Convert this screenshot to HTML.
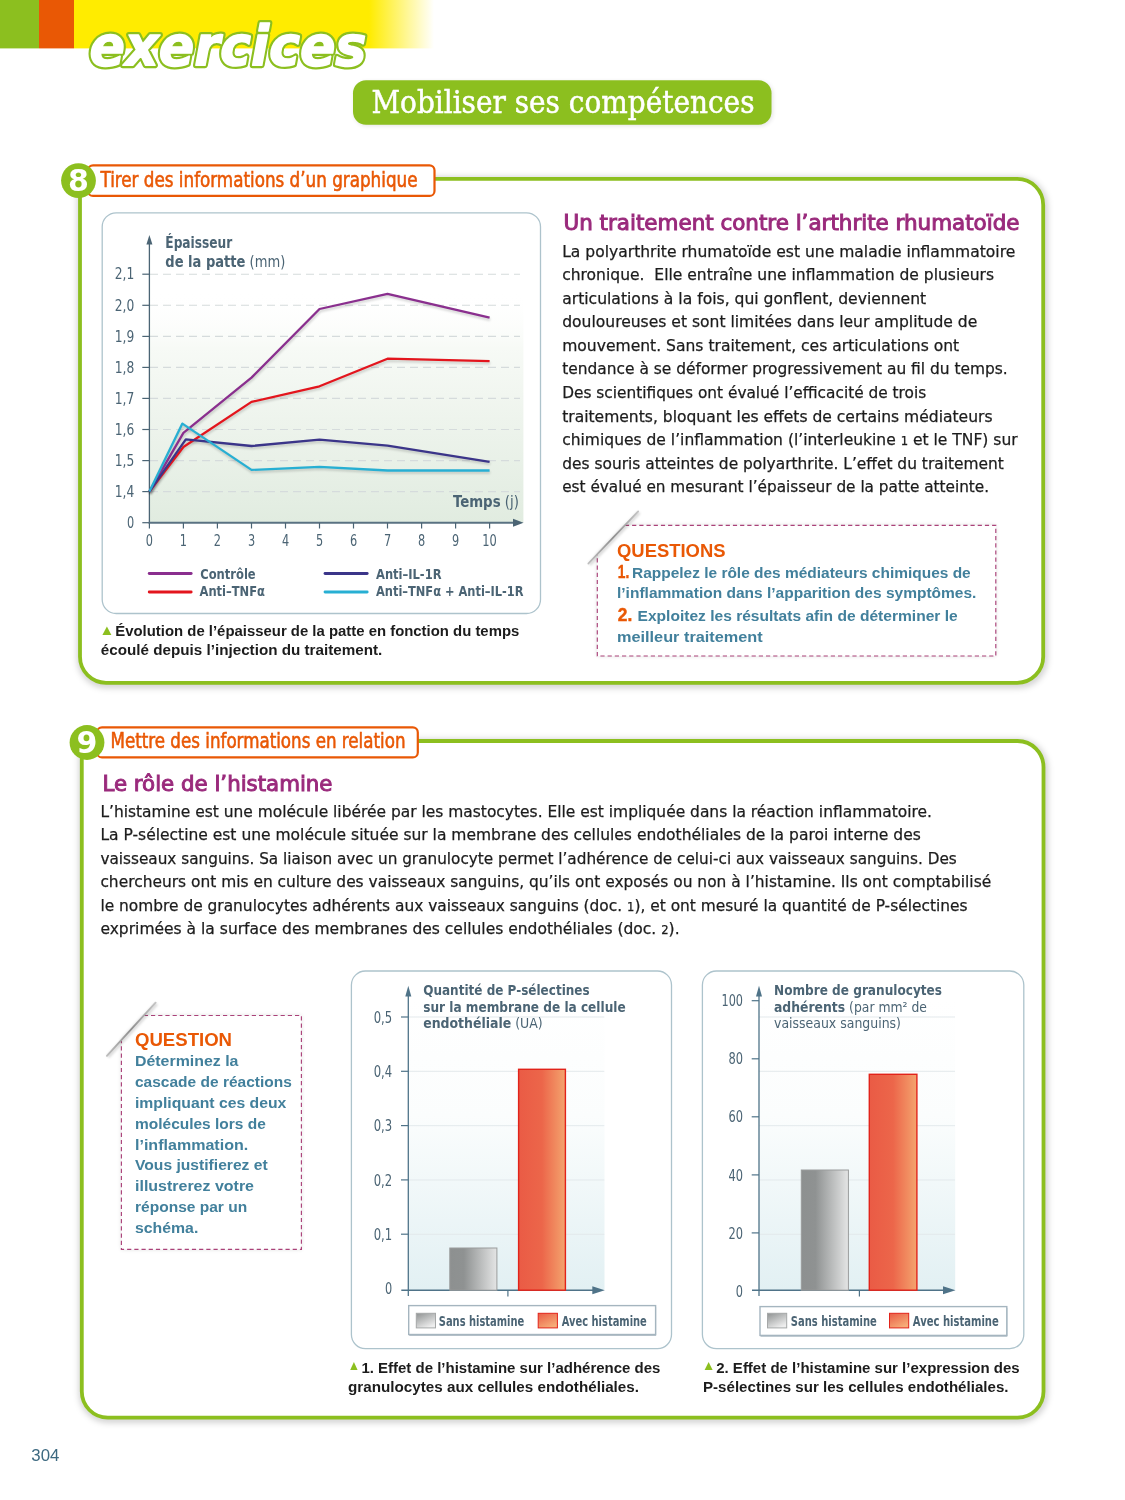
<!DOCTYPE html>
<html lang="fr"><head><meta charset="utf-8"><title>exercices</title>
<style>html,body{margin:0;padding:0;background:#fff}body{width:1125px;height:1500px;overflow:hidden}svg{display:block}</style>
</head><body>
<svg width="1125" height="1500" viewBox="0 0 1125 1500"><defs>
<linearGradient id="yel" x1="0" y1="0" x2="1" y2="0">
 <stop offset="0" stop-color="#ffec00"/><stop offset="0.82" stop-color="#ffec00"/>
 <stop offset="1" stop-color="#ffec00" stop-opacity="0"/></linearGradient>
<linearGradient id="grn" x1="0" y1="0" x2="0" y2="1">
 <stop offset="0" stop-color="#ffffff" stop-opacity="0"/><stop offset="0.25" stop-color="#f7faf6"/><stop offset="0.55" stop-color="#eef4ed"/>
 <stop offset="1" stop-color="#e1ece0"/></linearGradient>
<linearGradient id="blu" x1="0" y1="0" x2="0" y2="1">
 <stop offset="0" stop-color="#ffffff"/><stop offset="0.4" stop-color="#fbfdfd"/>
 <stop offset="1" stop-color="#e2f0f3"/></linearGradient>
<linearGradient id="gry" x1="0" y1="0" x2="1" y2="0">
 <stop offset="0" stop-color="#8d9090"/><stop offset="0.3" stop-color="#8f9292"/>
 <stop offset="1" stop-color="#e4e5e5"/></linearGradient>
<linearGradient id="red" x1="0" y1="0" x2="1" y2="0">
 <stop offset="0" stop-color="#ea5b45"/><stop offset="0.5" stop-color="#ec664a"/>
 <stop offset="1" stop-color="#f4a46e"/></linearGradient>
<linearGradient id="gry2" x1="0" y1="0" x2="0.6" y2="1">
 <stop offset="0" stop-color="#8f9292"/><stop offset="1" stop-color="#eeeeee"/></linearGradient>
<linearGradient id="red2" x1="0" y1="0" x2="0.6" y2="1">
 <stop offset="0" stop-color="#ea5b45"/><stop offset="1" stop-color="#f6ad78"/></linearGradient>
<linearGradient id="fold" x1="0" y1="1" x2="1" y2="0">
 <stop offset="0" stop-color="#bdbdbd"/><stop offset="0.5" stop-color="#8f8f8f"/><stop offset="1" stop-color="#c4c4c4"/></linearGradient>
<filter id="blur1" x="-20%" y="-20%" width="140%" height="140%"><feGaussianBlur stdDeviation="1"/></filter>
<filter id="blur2" x="-20%" y="-20%" width="140%" height="140%"><feGaussianBlur stdDeviation="2"/></filter>
<filter id="blur3" x="-10%" y="-10%" width="120%" height="120%"><feGaussianBlur stdDeviation="3"/></filter>
</defs>
<rect x="0" y="0" width="39" height="48.4" fill="#8cbf1f"/>
<rect x="39" y="0" width="35" height="48.4" fill="#e95805"/>
<rect x="74" y="0" width="360" height="48.4" fill="url(#yel)"/>
<text x="89.5" y="65" font-size="55" font-family="'DejaVu Sans', sans-serif" font-weight="bold" font-style="oblique" textLength="277" lengthAdjust="spacingAndGlyphs" fill="#8cbf1f" stroke="#8cbf1f" stroke-width="6" stroke-linejoin="round">exercices</text>
<text x="89.5" y="65" font-size="55" font-family="'DejaVu Sans', sans-serif" font-weight="bold" font-style="oblique" textLength="277" lengthAdjust="spacingAndGlyphs" fill="#ffffff" stroke="#ffffff" stroke-width="1.5" stroke-linejoin="round">exercices</text>
<rect x="354" y="81.5" width="419" height="44.5" rx="13" fill="#000" opacity="0.10" filter="url(#blur2)"/>
<rect x="353" y="80.2" width="418.5" height="44.5" rx="13" fill="#8cbf1f"/>
<text x="371.5" y="112.8" font-size="31" font-family="'DejaVu Serif', 'Liberation Serif', serif" fill="#ffffff" textLength="383" lengthAdjust="spacingAndGlyphs" stroke="#ffffff" stroke-width="0.5">Mobiliser ses compétences</text>
<path d="M80,178.9 L1017.2,178.9 A26,26 0 0 1 1043.2,204.9 L1043.2,656.8 A26,26 0 0 1 1017.2,682.8 L106,682.8 A26,26 0 0 1 80,656.8 Z" fill="none" stroke="#000" stroke-opacity="0.2" stroke-width="6.8" filter="url(#blur3)" transform="translate(0.8,1.6)"/>
<path d="M80,178.9 L1017.2,178.9 A26,26 0 0 1 1043.2,204.9 L1043.2,656.8 A26,26 0 0 1 1017.2,682.8 L106,682.8 A26,26 0 0 1 80,656.8 Z" fill="#ffffff" stroke="#8cbf1f" stroke-width="3.8"/>
<path d="M81.8,741.0 L1017.5,741.0 A26,26 0 0 1 1043.5,767.0 L1043.5,1391.6 A26,26 0 0 1 1017.5,1417.6 L107.8,1417.6 A26,26 0 0 1 81.8,1391.6 Z" fill="none" stroke="#000" stroke-opacity="0.2" stroke-width="6.8" filter="url(#blur3)" transform="translate(0.8,1.6)"/>
<path d="M81.8,741.0 L1017.5,741.0 A26,26 0 0 1 1043.5,767.0 L1043.5,1391.6 A26,26 0 0 1 1017.5,1417.6 L107.8,1417.6 A26,26 0 0 1 81.8,1391.6 Z" fill="#ffffff" stroke="#8cbf1f" stroke-width="3.8"/>
<rect x="88" y="165.3" width="346.5" height="30.599999999999994" rx="5" fill="#ffffff" stroke="#e95805" stroke-width="2.2"/>
<circle cx="78.5" cy="180.6" r="17.4" fill="#8cbf1f"/>
<text x="78.5" y="191.0" font-size="30" font-family="'DejaVu Sans', sans-serif" fill="#ffffff" font-weight="bold" text-anchor="middle">8</text>
<text x="100.5" y="187" font-size="21" font-family="'DejaVu Sans Condensed', 'DejaVu Sans', sans-serif" fill="#e95805" textLength="317" lengthAdjust="spacingAndGlyphs" stroke="#e95805" stroke-width="0.55">Tirer des informations d’un graphique</text>
<rect x="97" y="727.4" width="320.8" height="30.0" rx="5" fill="#ffffff" stroke="#e95805" stroke-width="2.2"/>
<circle cx="87" cy="742.5" r="17.4" fill="#8cbf1f"/>
<text x="87" y="752.9" font-size="30" font-family="'DejaVu Sans', sans-serif" fill="#ffffff" font-weight="bold" text-anchor="middle">9</text>
<text x="110.5" y="747.7" font-size="21" font-family="'DejaVu Sans Condensed', 'DejaVu Sans', sans-serif" fill="#e95805" textLength="295" lengthAdjust="spacingAndGlyphs" stroke="#e95805" stroke-width="0.55">Mettre des informations en relation</text>
<rect x="102.2" y="212.8" width="438.3" height="400.7" rx="14" fill="#ffffff" stroke="#adc3cc" stroke-width="1.3"/>
<rect x="149.4" y="290" width="374" height="232.7" fill="url(#grn)"/>
<line x1="150" y1="491.6" x2="520" y2="491.6" stroke="#d5dbdc" stroke-width="1.1" stroke-dasharray="8 5"/>
<line x1="142.3" y1="491.6" x2="149.4" y2="491.6" stroke="#4b6474" stroke-width="1.2"/>
<text x="134.2" y="496.8" font-size="15" font-family="'DejaVu Sans Condensed', 'DejaVu Sans', sans-serif" fill="#4b6474" textLength="19.5" lengthAdjust="spacingAndGlyphs" text-anchor="end">1,4</text>
<line x1="150" y1="460.6" x2="520" y2="460.6" stroke="#d5dbdc" stroke-width="1.1" stroke-dasharray="8 5"/>
<line x1="142.3" y1="460.6" x2="149.4" y2="460.6" stroke="#4b6474" stroke-width="1.2"/>
<text x="134.2" y="465.8" font-size="15" font-family="'DejaVu Sans Condensed', 'DejaVu Sans', sans-serif" fill="#4b6474" textLength="19.5" lengthAdjust="spacingAndGlyphs" text-anchor="end">1,5</text>
<line x1="150" y1="429.5" x2="520" y2="429.5" stroke="#d5dbdc" stroke-width="1.1" stroke-dasharray="8 5"/>
<line x1="142.3" y1="429.5" x2="149.4" y2="429.5" stroke="#4b6474" stroke-width="1.2"/>
<text x="134.2" y="434.7" font-size="15" font-family="'DejaVu Sans Condensed', 'DejaVu Sans', sans-serif" fill="#4b6474" textLength="19.5" lengthAdjust="spacingAndGlyphs" text-anchor="end">1,6</text>
<line x1="150" y1="398.4" x2="520" y2="398.4" stroke="#d5dbdc" stroke-width="1.1" stroke-dasharray="8 5"/>
<line x1="142.3" y1="398.4" x2="149.4" y2="398.4" stroke="#4b6474" stroke-width="1.2"/>
<text x="134.2" y="403.59999999999997" font-size="15" font-family="'DejaVu Sans Condensed', 'DejaVu Sans', sans-serif" fill="#4b6474" textLength="19.5" lengthAdjust="spacingAndGlyphs" text-anchor="end">1,7</text>
<line x1="150" y1="367.4" x2="520" y2="367.4" stroke="#d5dbdc" stroke-width="1.1" stroke-dasharray="8 5"/>
<line x1="142.3" y1="367.4" x2="149.4" y2="367.4" stroke="#4b6474" stroke-width="1.2"/>
<text x="134.2" y="372.59999999999997" font-size="15" font-family="'DejaVu Sans Condensed', 'DejaVu Sans', sans-serif" fill="#4b6474" textLength="19.5" lengthAdjust="spacingAndGlyphs" text-anchor="end">1,8</text>
<line x1="150" y1="336.4" x2="520" y2="336.4" stroke="#d5dbdc" stroke-width="1.1" stroke-dasharray="8 5"/>
<line x1="142.3" y1="336.4" x2="149.4" y2="336.4" stroke="#4b6474" stroke-width="1.2"/>
<text x="134.2" y="341.59999999999997" font-size="15" font-family="'DejaVu Sans Condensed', 'DejaVu Sans', sans-serif" fill="#4b6474" textLength="19.5" lengthAdjust="spacingAndGlyphs" text-anchor="end">1,9</text>
<line x1="150" y1="305.3" x2="520" y2="305.3" stroke="#d5dbdc" stroke-width="1.1" stroke-dasharray="8 5"/>
<line x1="142.3" y1="305.3" x2="149.4" y2="305.3" stroke="#4b6474" stroke-width="1.2"/>
<text x="134.2" y="310.5" font-size="15" font-family="'DejaVu Sans Condensed', 'DejaVu Sans', sans-serif" fill="#4b6474" textLength="19.5" lengthAdjust="spacingAndGlyphs" text-anchor="end">2,0</text>
<line x1="150" y1="274.2" x2="520" y2="274.2" stroke="#d5dbdc" stroke-width="1.1" stroke-dasharray="8 5"/>
<line x1="142.3" y1="274.2" x2="149.4" y2="274.2" stroke="#4b6474" stroke-width="1.2"/>
<text x="134.2" y="279.4" font-size="15" font-family="'DejaVu Sans Condensed', 'DejaVu Sans', sans-serif" fill="#4b6474" textLength="19.5" lengthAdjust="spacingAndGlyphs" text-anchor="end">2,1</text>
<text x="134.2" y="527.9" font-size="15" font-family="'DejaVu Sans Condensed', 'DejaVu Sans', sans-serif" fill="#4b6474" textLength="7.2" lengthAdjust="spacingAndGlyphs" text-anchor="end">0</text>
<line x1="142.3" y1="522.7" x2="149.4" y2="522.7" stroke="#4b6474" stroke-width="1.2"/>
<line x1="149.4" y1="243" x2="149.4" y2="523.5" stroke="#4b6474" stroke-width="1.3"/>
<path d="M149.4,235 L152.4,244.5 L146.4,244.5 Z" fill="#4b6474"/>
<line x1="148.7" y1="522.8" x2="515" y2="522.8" stroke="#5a7282" stroke-width="2"/>
<path d="M523.5,522.8 L513,518.8 L513,526.8 Z" fill="#4b6474"/>
<line x1="149.4" y1="522.8" x2="149.4" y2="528.5" stroke="#4b6474" stroke-width="1.2"/>
<text x="149.4" y="546.0" font-size="15" font-family="'DejaVu Sans Condensed', 'DejaVu Sans', sans-serif" fill="#4b6474" textLength="7.2" lengthAdjust="spacingAndGlyphs" text-anchor="middle">0</text>
<line x1="183.4" y1="522.8" x2="183.4" y2="528.5" stroke="#4b6474" stroke-width="1.2"/>
<text x="183.4" y="546.0" font-size="15" font-family="'DejaVu Sans Condensed', 'DejaVu Sans', sans-serif" fill="#4b6474" textLength="7.2" lengthAdjust="spacingAndGlyphs" text-anchor="middle">1</text>
<line x1="217.4" y1="522.8" x2="217.4" y2="528.5" stroke="#4b6474" stroke-width="1.2"/>
<text x="217.4" y="546.0" font-size="15" font-family="'DejaVu Sans Condensed', 'DejaVu Sans', sans-serif" fill="#4b6474" textLength="7.2" lengthAdjust="spacingAndGlyphs" text-anchor="middle">2</text>
<line x1="251.5" y1="522.8" x2="251.5" y2="528.5" stroke="#4b6474" stroke-width="1.2"/>
<text x="251.5" y="546.0" font-size="15" font-family="'DejaVu Sans Condensed', 'DejaVu Sans', sans-serif" fill="#4b6474" textLength="7.2" lengthAdjust="spacingAndGlyphs" text-anchor="middle">3</text>
<line x1="285.5" y1="522.8" x2="285.5" y2="528.5" stroke="#4b6474" stroke-width="1.2"/>
<text x="285.5" y="546.0" font-size="15" font-family="'DejaVu Sans Condensed', 'DejaVu Sans', sans-serif" fill="#4b6474" textLength="7.2" lengthAdjust="spacingAndGlyphs" text-anchor="middle">4</text>
<line x1="319.5" y1="522.8" x2="319.5" y2="528.5" stroke="#4b6474" stroke-width="1.2"/>
<text x="319.5" y="546.0" font-size="15" font-family="'DejaVu Sans Condensed', 'DejaVu Sans', sans-serif" fill="#4b6474" textLength="7.2" lengthAdjust="spacingAndGlyphs" text-anchor="middle">5</text>
<line x1="353.5" y1="522.8" x2="353.5" y2="528.5" stroke="#4b6474" stroke-width="1.2"/>
<text x="353.5" y="546.0" font-size="15" font-family="'DejaVu Sans Condensed', 'DejaVu Sans', sans-serif" fill="#4b6474" textLength="7.2" lengthAdjust="spacingAndGlyphs" text-anchor="middle">6</text>
<line x1="387.5" y1="522.8" x2="387.5" y2="528.5" stroke="#4b6474" stroke-width="1.2"/>
<text x="387.5" y="546.0" font-size="15" font-family="'DejaVu Sans Condensed', 'DejaVu Sans', sans-serif" fill="#4b6474" textLength="7.2" lengthAdjust="spacingAndGlyphs" text-anchor="middle">7</text>
<line x1="421.6" y1="522.8" x2="421.6" y2="528.5" stroke="#4b6474" stroke-width="1.2"/>
<text x="421.6" y="546.0" font-size="15" font-family="'DejaVu Sans Condensed', 'DejaVu Sans', sans-serif" fill="#4b6474" textLength="7.2" lengthAdjust="spacingAndGlyphs" text-anchor="middle">8</text>
<line x1="455.6" y1="522.8" x2="455.6" y2="528.5" stroke="#4b6474" stroke-width="1.2"/>
<text x="455.6" y="546.0" font-size="15" font-family="'DejaVu Sans Condensed', 'DejaVu Sans', sans-serif" fill="#4b6474" textLength="7.2" lengthAdjust="spacingAndGlyphs" text-anchor="middle">9</text>
<line x1="489.6" y1="522.8" x2="489.6" y2="528.5" stroke="#4b6474" stroke-width="1.2"/>
<text x="489.6" y="546.0" font-size="15" font-family="'DejaVu Sans Condensed', 'DejaVu Sans', sans-serif" fill="#4b6474" textLength="14.5" lengthAdjust="spacingAndGlyphs" text-anchor="middle">10</text>
<text x="165.3" y="247.8" font-size="15" font-family="'DejaVu Sans Condensed', 'DejaVu Sans', sans-serif" fill="#4b6474" font-weight="bold" textLength="67" lengthAdjust="spacingAndGlyphs">Épaisseur</text>
<text x="165.3" y="267" font-size="15" font-family="'DejaVu Sans Condensed', 'DejaVu Sans', sans-serif" fill="#4b6474" textLength="120" lengthAdjust="spacingAndGlyphs"><tspan font-weight="bold">de la patte</tspan> (mm)</text>
<text x="453" y="507.2" font-size="15" font-family="'DejaVu Sans Condensed', 'DejaVu Sans', sans-serif" fill="#4b6474" textLength="66" lengthAdjust="spacingAndGlyphs"><tspan font-weight="bold">Temps</tspan> (j)</text>
<polyline points="149.4,491.6 183.4,432.9 251.5,377.6 319.5,309.0 387.5,293.8 489.6,317.7" fill="none" stroke="#000" stroke-opacity="0.16" stroke-width="2.6" stroke-linejoin="round" transform="translate(0.6,2)" filter="url(#blur1)"/>
<polyline points="149.4,491.6 183.4,447.0 251.5,401.9 319.5,386.3 387.5,358.7 489.6,361.2" fill="none" stroke="#000" stroke-opacity="0.16" stroke-width="2.6" stroke-linejoin="round" transform="translate(0.6,2)" filter="url(#blur1)"/>
<polyline points="149.4,491.6 185.8,439.4 251.5,446.0 319.5,439.7 387.5,445.6 489.6,461.8" fill="none" stroke="#000" stroke-opacity="0.16" stroke-width="2.6" stroke-linejoin="round" transform="translate(0.6,2)" filter="url(#blur1)"/>
<polyline points="149.4,491.6 182.4,423.6 251.5,469.9 319.5,466.8 387.5,470.5 489.6,470.5" fill="none" stroke="#000" stroke-opacity="0.16" stroke-width="2.6" stroke-linejoin="round" transform="translate(0.6,2)" filter="url(#blur1)"/>
<polyline points="149.4,491.6 183.4,432.9 251.5,377.6 319.5,309.0 387.5,293.8 489.6,317.7" fill="none" stroke="#8a2f8e" stroke-width="2.3" stroke-linejoin="round"/>
<polyline points="149.4,491.6 183.4,447.0 251.5,401.9 319.5,386.3 387.5,358.7 489.6,361.2" fill="none" stroke="#e3151d" stroke-width="2.3" stroke-linejoin="round"/>
<polyline points="149.4,491.6 185.8,439.4 251.5,446.0 319.5,439.7 387.5,445.6 489.6,461.8" fill="none" stroke="#3b3589" stroke-width="2.3" stroke-linejoin="round"/>
<polyline points="149.4,491.6 182.4,423.6 251.5,469.9 319.5,466.8 387.5,470.5 489.6,470.5" fill="none" stroke="#27afd3" stroke-width="2.3" stroke-linejoin="round"/>
<line x1="149.2" y1="573.5" x2="191.2" y2="573.5" stroke="#8a2f8e" stroke-width="2.8" stroke-linecap="round"/>
<text x="200.2" y="578.5" font-size="14" font-family="'DejaVu Sans Condensed', 'DejaVu Sans', sans-serif" fill="#4b6474" font-weight="bold" textLength="55.5" lengthAdjust="spacingAndGlyphs">Contrôle</text>
<line x1="149.2" y1="592.0" x2="191.2" y2="592.0" stroke="#e3151d" stroke-width="2.8" stroke-linecap="round"/>
<text x="199.5" y="595.7" font-size="14" font-family="'DejaVu Sans Condensed', 'DejaVu Sans', sans-serif" fill="#4b6474" font-weight="bold" textLength="65.5" lengthAdjust="spacingAndGlyphs">Anti–TNFα</text>
<line x1="325.0" y1="573.5" x2="367.2" y2="573.5" stroke="#3b3589" stroke-width="2.8" stroke-linecap="round"/>
<text x="376.0" y="578.5" font-size="14" font-family="'DejaVu Sans Condensed', 'DejaVu Sans', sans-serif" fill="#4b6474" font-weight="bold" textLength="65.5" lengthAdjust="spacingAndGlyphs">Anti–IL-1R</text>
<line x1="325.0" y1="592.0" x2="367.2" y2="592.0" stroke="#27afd3" stroke-width="2.8" stroke-linecap="round"/>
<text x="376.0" y="595.7" font-size="14" font-family="'DejaVu Sans Condensed', 'DejaVu Sans', sans-serif" fill="#4b6474" font-weight="bold" textLength="147.5" lengthAdjust="spacingAndGlyphs">Anti–TNFα + Anti–IL-1R</text>
<path d="M102.4,635 L106.9,626.5 L111.4,635 Z" fill="#8cbf1f"/>
<text x="115.3" y="636.3" font-size="14.8" font-family="'Liberation Sans', Arial, sans-serif" fill="#1c1c1c" font-weight="bold" textLength="404" lengthAdjust="spacingAndGlyphs">Évolution de l’épaisseur de la patte en fonction du temps</text>
<text x="100.8" y="655.3" font-size="14.8" font-family="'Liberation Sans', Arial, sans-serif" fill="#1c1c1c" font-weight="bold" textLength="281.5" lengthAdjust="spacingAndGlyphs">écoulé depuis l’injection du traitement.</text>
<text x="563.5" y="230.2" font-size="21.5" font-family="'DejaVu Sans Condensed', 'DejaVu Sans', sans-serif" fill="#9a2a7c" textLength="456" lengthAdjust="spacingAndGlyphs" stroke="#9a2a7c" stroke-width="0.9">Un traitement contre l’arthrite rhumatoïde</text>
<text x="562.2" y="256.5" font-size="15.5" font-family="'DejaVu Sans', sans-serif" fill="#1c1c1c" stroke="#1c1c1c" stroke-width="0.25" textLength="453.1" lengthAdjust="spacingAndGlyphs" xml:space="preserve">La polyarthrite rhumatoïde est une maladie inflammatoire</text>
<text x="562.2" y="280.1" font-size="15.5" font-family="'DejaVu Sans', sans-serif" fill="#1c1c1c" stroke="#1c1c1c" stroke-width="0.25" textLength="431.9" lengthAdjust="spacingAndGlyphs" xml:space="preserve">chronique.  Elle entraîne une inflammation de plusieurs</text>
<text x="562.2" y="303.6" font-size="15.5" font-family="'DejaVu Sans', sans-serif" fill="#1c1c1c" stroke="#1c1c1c" stroke-width="0.25" textLength="364.0" lengthAdjust="spacingAndGlyphs" xml:space="preserve">articulations à la fois, qui gonflent, deviennent</text>
<text x="562.2" y="327.2" font-size="15.5" font-family="'DejaVu Sans', sans-serif" fill="#1c1c1c" stroke="#1c1c1c" stroke-width="0.25" textLength="415.1" lengthAdjust="spacingAndGlyphs" xml:space="preserve">douloureuses et sont limitées dans leur amplitude de</text>
<text x="562.2" y="350.8" font-size="15.5" font-family="'DejaVu Sans', sans-serif" fill="#1c1c1c" stroke="#1c1c1c" stroke-width="0.25" textLength="397.0" lengthAdjust="spacingAndGlyphs" xml:space="preserve">mouvement. Sans traitement, ces articulations ont</text>
<text x="562.2" y="374.4" font-size="15.5" font-family="'DejaVu Sans', sans-serif" fill="#1c1c1c" stroke="#1c1c1c" stroke-width="0.25" textLength="445.6" lengthAdjust="spacingAndGlyphs" xml:space="preserve">tendance à se déformer progressivement au fil du temps.</text>
<text x="562.2" y="397.9" font-size="15.5" font-family="'DejaVu Sans', sans-serif" fill="#1c1c1c" stroke="#1c1c1c" stroke-width="0.25" textLength="364.0" lengthAdjust="spacingAndGlyphs" xml:space="preserve">Des scientifiques ont évalué l’efficacité de trois</text>
<text x="562.2" y="421.5" font-size="15.5" font-family="'DejaVu Sans', sans-serif" fill="#1c1c1c" stroke="#1c1c1c" stroke-width="0.25" textLength="430.3" lengthAdjust="spacingAndGlyphs" xml:space="preserve">traitements, bloquant les effets de certains médiateurs</text>
<text x="562.2" y="445.1" font-size="15.5" font-family="'DejaVu Sans', sans-serif" fill="#1c1c1c" stroke="#1c1c1c" stroke-width="0.25" textLength="455.4" lengthAdjust="spacingAndGlyphs" xml:space="preserve">chimiques de l’inflammation (l’interleukine <tspan font-size="11.6">1</tspan> et le TNF) sur</text>
<text x="562.2" y="468.6" font-size="15.5" font-family="'DejaVu Sans', sans-serif" fill="#1c1c1c" stroke="#1c1c1c" stroke-width="0.25" textLength="441.7" lengthAdjust="spacingAndGlyphs" xml:space="preserve">des souris atteintes de polyarthrite. L’effet du traitement</text>
<text x="562.2" y="492.2" font-size="15.5" font-family="'DejaVu Sans', sans-serif" fill="#1c1c1c" stroke="#1c1c1c" stroke-width="0.25" textLength="426.9" lengthAdjust="spacingAndGlyphs" xml:space="preserve">est évalué en mesurant l’épaisseur de la patte atteinte.</text>
<path d="M624.9,525.3 L995.8,525.3 L995.8,656.0 L597.3,656.0 L597.3,554.1999999999999 Z" fill="#000" opacity="0.13" filter="url(#blur2)"/>
<path d="M624.9,525.3 L995.8,525.3 L995.8,656.0 L597.3,656.0 L597.3,554.1999999999999 Z" fill="#ffffff"/>
<path d="M624.9,525.3 L995.8,525.3 L995.8,656.0 L597.3,656.0 L597.3,554.1999999999999" fill="none" stroke="#aa4279" stroke-width="1.15" stroke-dasharray="4.2 3"/>
<line x1="588.4" y1="563.5" x2="638.2" y2="511.4" stroke="#000" stroke-opacity="0.13" stroke-width="4" filter="url(#blur1)" transform="translate(1,1)"/>
<line x1="588.4" y1="563.5" x2="638.2" y2="511.4" stroke="url(#fold)" stroke-width="1.8" stroke-linecap="round"/>
<text x="617" y="556.5" font-size="17.6" font-family="'Liberation Sans', Arial, sans-serif" fill="#e95805" font-weight="bold" textLength="108.5" lengthAdjust="spacingAndGlyphs">QUESTIONS</text>
<text x="617.8" y="577.8" font-size="17.5" font-family="'Liberation Sans', Arial, sans-serif" fill="#e95805" font-weight="bold" textLength="11.5" lengthAdjust="spacingAndGlyphs" stroke="#e95805" stroke-width="0.4">1.</text>
<text x="632.0" y="577.8" font-size="15.3" font-family="'Liberation Sans', Arial, sans-serif" fill="#42809c" font-weight="bold" textLength="338.7" lengthAdjust="spacingAndGlyphs">Rappelez le rôle des médiateurs chimiques de</text>
<text x="617.0" y="598.2" font-size="15.3" font-family="'Liberation Sans', Arial, sans-serif" fill="#42809c" font-weight="bold" textLength="359.40000000000003" lengthAdjust="spacingAndGlyphs">l’inflammation dans l’apparition des symptômes.</text>
<text x="617.8" y="621.2" font-size="17.5" font-family="'Liberation Sans', Arial, sans-serif" fill="#e95805" font-weight="bold" textLength="14.5" lengthAdjust="spacingAndGlyphs" stroke="#e95805" stroke-width="0.4">2.</text>
<text x="637.5" y="621.2" font-size="15.3" font-family="'Liberation Sans', Arial, sans-serif" fill="#42809c" font-weight="bold" textLength="320.2" lengthAdjust="spacingAndGlyphs">Exploitez les résultats afin de déterminer le</text>
<text x="617.0" y="641.8" font-size="15.3" font-family="'Liberation Sans', Arial, sans-serif" fill="#42809c" font-weight="bold" textLength="145.7" lengthAdjust="spacingAndGlyphs">meilleur traitement</text>
<text x="102.5" y="790.7" font-size="22" font-family="'DejaVu Sans Condensed', 'DejaVu Sans', sans-serif" fill="#9a2a7c" textLength="230" lengthAdjust="spacingAndGlyphs" stroke="#9a2a7c" stroke-width="0.9">Le rôle de l’histamine</text>
<text x="100.4" y="816.6" font-size="15.5" font-family="'DejaVu Sans', sans-serif" fill="#1c1c1c" stroke="#1c1c1c" stroke-width="0.25" textLength="831.6" lengthAdjust="spacingAndGlyphs" xml:space="preserve">L’histamine est une molécule libérée par les mastocytes. Elle est impliquée dans la réaction inflammatoire.</text>
<text x="100.4" y="840.1" font-size="15.5" font-family="'DejaVu Sans', sans-serif" fill="#1c1c1c" stroke="#1c1c1c" stroke-width="0.25" textLength="820.4" lengthAdjust="spacingAndGlyphs" xml:space="preserve">La P-sélectine est une molécule située sur la membrane des cellules endothéliales de la paroi interne des</text>
<text x="100.4" y="863.6" font-size="15.5" font-family="'DejaVu Sans', sans-serif" fill="#1c1c1c" stroke="#1c1c1c" stroke-width="0.25" textLength="856.4" lengthAdjust="spacingAndGlyphs" xml:space="preserve">vaisseaux sanguins. Sa liaison avec un granulocyte permet l’adhérence de celui-ci aux vaisseaux sanguins. Des</text>
<text x="100.4" y="887.2" font-size="15.5" font-family="'DejaVu Sans', sans-serif" fill="#1c1c1c" stroke="#1c1c1c" stroke-width="0.25" textLength="890.8" lengthAdjust="spacingAndGlyphs" xml:space="preserve">chercheurs ont mis en culture des vaisseaux sanguins, qu’ils ont exposés ou non à l’histamine. Ils ont comptabilisé</text>
<text x="100.4" y="910.7" font-size="15.5" font-family="'DejaVu Sans', sans-serif" fill="#1c1c1c" stroke="#1c1c1c" stroke-width="0.25" textLength="867.1" lengthAdjust="spacingAndGlyphs" xml:space="preserve">le nombre de granulocytes adhérents aux vaisseaux sanguins (doc. <tspan font-size="11.6">1</tspan>), et ont mesuré la quantité de P-sélectines</text>
<text x="100.4" y="934.2" font-size="15.5" font-family="'DejaVu Sans', sans-serif" fill="#1c1c1c" stroke="#1c1c1c" stroke-width="0.25" textLength="579.2" lengthAdjust="spacingAndGlyphs" xml:space="preserve">exprimées à la surface des membranes des cellules endothéliales (doc. <tspan font-size="11.6">2</tspan>).</text>
<path d="M143.8,1015.5 L301.4,1015.5 L301.4,1249.4 L121.4,1249.4 L121.4,1040.0 Z" fill="#000" opacity="0.13" filter="url(#blur2)"/>
<path d="M143.8,1015.5 L301.4,1015.5 L301.4,1249.4 L121.4,1249.4 L121.4,1040.0 Z" fill="#ffffff"/>
<path d="M143.8,1015.5 L301.4,1015.5 L301.4,1249.4 L121.4,1249.4 L121.4,1040.0" fill="none" stroke="#aa4279" stroke-width="1.15" stroke-dasharray="4.2 3"/>
<line x1="106.9" y1="1055.9" x2="155.6" y2="1002.6" stroke="#000" stroke-opacity="0.13" stroke-width="4" filter="url(#blur1)" transform="translate(1,1)"/>
<line x1="106.9" y1="1055.9" x2="155.6" y2="1002.6" stroke="url(#fold)" stroke-width="1.8" stroke-linecap="round"/>
<text x="135" y="1046.2" font-size="18" font-family="'Liberation Sans', Arial, sans-serif" fill="#e95805" font-weight="bold" textLength="97" lengthAdjust="spacingAndGlyphs">QUESTION</text>
<text x="135" y="1066.4" font-size="15.3" font-family="'Liberation Sans', Arial, sans-serif" fill="#42809c" font-weight="bold" textLength="103.4" lengthAdjust="spacingAndGlyphs">Déterminez la</text>
<text x="135" y="1087.2" font-size="15.3" font-family="'Liberation Sans', Arial, sans-serif" fill="#42809c" font-weight="bold" textLength="156.8" lengthAdjust="spacingAndGlyphs">cascade de réactions</text>
<text x="135" y="1108.0" font-size="15.3" font-family="'Liberation Sans', Arial, sans-serif" fill="#42809c" font-weight="bold" textLength="151.3" lengthAdjust="spacingAndGlyphs">impliquant ces deux</text>
<text x="135" y="1128.8" font-size="15.3" font-family="'Liberation Sans', Arial, sans-serif" fill="#42809c" font-weight="bold" textLength="130.8" lengthAdjust="spacingAndGlyphs">molécules lors de</text>
<text x="135" y="1149.6" font-size="15.3" font-family="'Liberation Sans', Arial, sans-serif" fill="#42809c" font-weight="bold" textLength="113.19999999999999" lengthAdjust="spacingAndGlyphs">l’inflammation.</text>
<text x="135" y="1170.4" font-size="15.3" font-family="'Liberation Sans', Arial, sans-serif" fill="#42809c" font-weight="bold" textLength="132.7" lengthAdjust="spacingAndGlyphs">Vous justifierez et</text>
<text x="135" y="1191.2" font-size="15.3" font-family="'Liberation Sans', Arial, sans-serif" fill="#42809c" font-weight="bold" textLength="119.0" lengthAdjust="spacingAndGlyphs">illustrerez votre</text>
<text x="135" y="1212.0" font-size="15.3" font-family="'Liberation Sans', Arial, sans-serif" fill="#42809c" font-weight="bold" textLength="112.19999999999999" lengthAdjust="spacingAndGlyphs">réponse par un</text>
<text x="135" y="1232.8" font-size="15.3" font-family="'Liberation Sans', Arial, sans-serif" fill="#42809c" font-weight="bold" textLength="63.30000000000001" lengthAdjust="spacingAndGlyphs">schéma.</text>
<rect x="351.4" y="971" width="320.1" height="377.6" rx="14" fill="#ffffff" stroke="#adc3cc" stroke-width="1.3"/>
<rect x="408.3" y="1000" width="196.2" height="290" fill="url(#blu)"/>
<line x1="408.3" y1="1017.0" x2="604.3" y2="1017.0" stroke="#e3e9ec" stroke-width="1"/>
<line x1="408.3" y1="1071.3" x2="604.3" y2="1071.3" stroke="#e3e9ec" stroke-width="1"/>
<line x1="408.3" y1="1125.7" x2="604.3" y2="1125.7" stroke="#e3e9ec" stroke-width="1"/>
<line x1="408.3" y1="1180.0" x2="604.3" y2="1180.0" stroke="#e3e9ec" stroke-width="1"/>
<line x1="408.3" y1="1234.3" x2="604.3" y2="1234.3" stroke="#e3e9ec" stroke-width="1"/>
<line x1="408.3" y1="994" x2="408.3" y2="1296" stroke="#4f7388" stroke-width="1.3"/>
<path d="M408.3,985.8 L411.3,996.4 L405.3,996.4 Z" fill="#4f7388"/>
<line x1="401.3" y1="1290.2" x2="596.3" y2="1290.2" stroke="#4f7388" stroke-width="1.6"/>
<path d="M604.8,1290.2 L592.3,1286.2 L592.3,1294.2 Z" fill="#4f7388"/>
<line x1="507.9" y1="1290.2" x2="507.9" y2="1296.5" stroke="#4f7388" stroke-width="1.2"/>
<line x1="401.0" y1="1017.0" x2="408.3" y2="1017.0" stroke="#4f7388" stroke-width="1.2"/>
<text x="392.2" y="1022.6" font-size="15" font-family="'DejaVu Sans Condensed', 'DejaVu Sans', sans-serif" fill="#4b6474" textLength="18.5" lengthAdjust="spacingAndGlyphs" text-anchor="end">0,5</text>
<line x1="401.0" y1="1071.3" x2="408.3" y2="1071.3" stroke="#4f7388" stroke-width="1.2"/>
<text x="392.2" y="1076.8999999999999" font-size="15" font-family="'DejaVu Sans Condensed', 'DejaVu Sans', sans-serif" fill="#4b6474" textLength="18.5" lengthAdjust="spacingAndGlyphs" text-anchor="end">0,4</text>
<line x1="401.0" y1="1125.6" x2="408.3" y2="1125.6" stroke="#4f7388" stroke-width="1.2"/>
<text x="392.2" y="1131.1999999999998" font-size="15" font-family="'DejaVu Sans Condensed', 'DejaVu Sans', sans-serif" fill="#4b6474" textLength="18.5" lengthAdjust="spacingAndGlyphs" text-anchor="end">0,3</text>
<line x1="401.0" y1="1179.9" x2="408.3" y2="1179.9" stroke="#4f7388" stroke-width="1.2"/>
<text x="392.2" y="1185.5" font-size="15" font-family="'DejaVu Sans Condensed', 'DejaVu Sans', sans-serif" fill="#4b6474" textLength="18.5" lengthAdjust="spacingAndGlyphs" text-anchor="end">0,2</text>
<line x1="401.0" y1="1234.2" x2="408.3" y2="1234.2" stroke="#4f7388" stroke-width="1.2"/>
<text x="392.2" y="1239.8" font-size="15" font-family="'DejaVu Sans Condensed', 'DejaVu Sans', sans-serif" fill="#4b6474" textLength="18.5" lengthAdjust="spacingAndGlyphs" text-anchor="end">0,1</text>
<text x="392.2" y="1294.1" font-size="15" font-family="'DejaVu Sans Condensed', 'DejaVu Sans', sans-serif" fill="#4b6474" textLength="7.2" lengthAdjust="spacingAndGlyphs" text-anchor="end">0</text>
<text x="423.2" y="995.2" font-size="14.5" font-family="'DejaVu Sans Condensed', 'DejaVu Sans', sans-serif" fill="#4b6474" textLength="166.5" lengthAdjust="spacingAndGlyphs"><tspan font-weight="bold">Quantité de P-sélectines</tspan></text>
<text x="423.2" y="1011.7" font-size="14.5" font-family="'DejaVu Sans Condensed', 'DejaVu Sans', sans-serif" fill="#4b6474" textLength="202.5" lengthAdjust="spacingAndGlyphs"><tspan font-weight="bold">sur la membrane de la cellule</tspan></text>
<text x="423.2" y="1028.2" font-size="14.5" font-family="'DejaVu Sans Condensed', 'DejaVu Sans', sans-serif" fill="#4b6474" textLength="119.5" lengthAdjust="spacingAndGlyphs"><tspan font-weight="bold">endothéliale</tspan><tspan font-weight="normal"> (UA)</tspan></text>
<rect x="449.8" y="1248.0" width="47.099999999999966" height="42.200000000000045" fill="url(#gry)" stroke="#9a9c9c" stroke-width="1"/>
<rect x="518.6" y="1069.3" width="46.799999999999955" height="220.9000000000001" fill="url(#red)" stroke="#e2231a" stroke-width="1.4"/>
<rect x="409.2" y="1306.8" width="246.90000000000003" height="28.90000000000009" fill="#9aabb6"/>
<rect x="408.7" y="1305.6" width="246.90000000000003" height="28.90000000000009" fill="#ffffff" stroke="#a5b5bf" stroke-width="1.4"/>
<rect x="416.3" y="1313.3" width="19.2" height="14.6" fill="url(#gry2)" stroke="#a6a8a8" stroke-width="1"/>
<text x="438.8" y="1326" font-size="13.5" font-family="'DejaVu Sans Condensed', 'DejaVu Sans', sans-serif" fill="#4b6474" font-weight="bold" textLength="85.5" lengthAdjust="spacingAndGlyphs">Sans histamine</text>
<rect x="538.2" y="1313.3" width="19.2" height="14.6" fill="url(#red2)" stroke="#e2231a" stroke-width="1"/>
<text x="561.8" y="1326" font-size="13.5" font-family="'DejaVu Sans Condensed', 'DejaVu Sans', sans-serif" fill="#4b6474" font-weight="bold" textLength="85" lengthAdjust="spacingAndGlyphs">Avec histamine</text>
<rect x="702.4" y="971" width="321.4" height="377.6" rx="14" fill="#ffffff" stroke="#adc3cc" stroke-width="1.3"/>
<rect x="759.0" y="1000" width="196.2" height="290" fill="url(#blu)"/>
<line x1="759.0" y1="1017.0" x2="955.0" y2="1017.0" stroke="#e3e9ec" stroke-width="1"/>
<line x1="759.0" y1="1071.3" x2="955.0" y2="1071.3" stroke="#e3e9ec" stroke-width="1"/>
<line x1="759.0" y1="1125.7" x2="955.0" y2="1125.7" stroke="#e3e9ec" stroke-width="1"/>
<line x1="759.0" y1="1180.0" x2="955.0" y2="1180.0" stroke="#e3e9ec" stroke-width="1"/>
<line x1="759.0" y1="1234.3" x2="955.0" y2="1234.3" stroke="#e3e9ec" stroke-width="1"/>
<line x1="759.0" y1="994" x2="759.0" y2="1296" stroke="#4f7388" stroke-width="1.3"/>
<path d="M759.0,985.8 L762.0,996.4 L756.0,996.4 Z" fill="#4f7388"/>
<line x1="752.0" y1="1290.2" x2="947.0" y2="1290.2" stroke="#4f7388" stroke-width="1.6"/>
<path d="M955.5,1290.2 L943.0,1286.2 L943.0,1294.2 Z" fill="#4f7388"/>
<line x1="859.4" y1="1290.2" x2="859.4" y2="1296.5" stroke="#4f7388" stroke-width="1.2"/>
<line x1="751.7" y1="1000.7" x2="759.0" y2="1000.7" stroke="#4f7388" stroke-width="1.2"/>
<text x="743.0" y="1006.3000000000001" font-size="15" font-family="'DejaVu Sans Condensed', 'DejaVu Sans', sans-serif" fill="#4b6474" textLength="21.5" lengthAdjust="spacingAndGlyphs" text-anchor="end">100</text>
<line x1="751.7" y1="1058.8" x2="759.0" y2="1058.8" stroke="#4f7388" stroke-width="1.2"/>
<text x="743.0" y="1064.3999999999999" font-size="15" font-family="'DejaVu Sans Condensed', 'DejaVu Sans', sans-serif" fill="#4b6474" textLength="14.5" lengthAdjust="spacingAndGlyphs" text-anchor="end">80</text>
<line x1="751.7" y1="1116.8" x2="759.0" y2="1116.8" stroke="#4f7388" stroke-width="1.2"/>
<text x="743.0" y="1122.3999999999999" font-size="15" font-family="'DejaVu Sans Condensed', 'DejaVu Sans', sans-serif" fill="#4b6474" textLength="14.5" lengthAdjust="spacingAndGlyphs" text-anchor="end">60</text>
<line x1="751.7" y1="1174.9" x2="759.0" y2="1174.9" stroke="#4f7388" stroke-width="1.2"/>
<text x="743.0" y="1180.5" font-size="15" font-family="'DejaVu Sans Condensed', 'DejaVu Sans', sans-serif" fill="#4b6474" textLength="14.5" lengthAdjust="spacingAndGlyphs" text-anchor="end">40</text>
<line x1="751.7" y1="1232.9" x2="759.0" y2="1232.9" stroke="#4f7388" stroke-width="1.2"/>
<text x="743.0" y="1238.5" font-size="15" font-family="'DejaVu Sans Condensed', 'DejaVu Sans', sans-serif" fill="#4b6474" textLength="14.5" lengthAdjust="spacingAndGlyphs" text-anchor="end">20</text>
<text x="743.0" y="1296.6" font-size="15" font-family="'DejaVu Sans Condensed', 'DejaVu Sans', sans-serif" fill="#4b6474" textLength="7.2" lengthAdjust="spacingAndGlyphs" text-anchor="end">0</text>
<text x="774.0" y="995.2" font-size="14.5" font-family="'DejaVu Sans Condensed', 'DejaVu Sans', sans-serif" fill="#4b6474" textLength="168" lengthAdjust="spacingAndGlyphs"><tspan font-weight="bold">Nombre de granulocytes</tspan></text>
<text x="774.0" y="1011.7" font-size="14.5" font-family="'DejaVu Sans Condensed', 'DejaVu Sans', sans-serif" fill="#4b6474" textLength="153" lengthAdjust="spacingAndGlyphs"><tspan font-weight="bold">adhérents</tspan><tspan font-weight="normal"> (par mm² de</tspan></text>
<text x="774.0" y="1028.2" font-size="14.5" font-family="'DejaVu Sans Condensed', 'DejaVu Sans', sans-serif" fill="#4b6474" textLength="127" lengthAdjust="spacingAndGlyphs"><tspan font-weight="normal">vaisseaux sanguins)</tspan></text>
<rect x="801.3" y="1170.0" width="47.10000000000002" height="120.20000000000005" fill="url(#gry)" stroke="#9a9c9c" stroke-width="1"/>
<rect x="869.3" y="1074.3" width="47.60000000000002" height="215.9000000000001" fill="url(#red)" stroke="#e2231a" stroke-width="1.4"/>
<rect x="760.5" y="1307.8" width="246.79999999999995" height="28.800000000000182" fill="#9aabb6"/>
<rect x="760.0" y="1306.6" width="246.79999999999995" height="28.800000000000182" fill="#ffffff" stroke="#a5b5bf" stroke-width="1.4"/>
<rect x="767.5" y="1313.3" width="19.2" height="14.6" fill="url(#gry2)" stroke="#a6a8a8" stroke-width="1"/>
<text x="790.8" y="1326" font-size="13.5" font-family="'DejaVu Sans Condensed', 'DejaVu Sans', sans-serif" fill="#4b6474" font-weight="bold" textLength="86" lengthAdjust="spacingAndGlyphs">Sans histamine</text>
<rect x="889.5" y="1313.3" width="19.2" height="14.6" fill="url(#red2)" stroke="#e2231a" stroke-width="1"/>
<text x="912.8" y="1326" font-size="13.5" font-family="'DejaVu Sans Condensed', 'DejaVu Sans', sans-serif" fill="#4b6474" font-weight="bold" textLength="86" lengthAdjust="spacingAndGlyphs">Avec histamine</text>
<path d="M350.2,1370 L353.9,1362 L357.6,1370 Z" fill="#8cbf1f"/>
<text x="361.4" y="1373" font-size="14.8" font-family="'Liberation Sans', Arial, sans-serif" fill="#1c1c1c" font-weight="bold" textLength="299" lengthAdjust="spacingAndGlyphs">1. Effet de l’histamine sur l’adhérence des</text>
<text x="348" y="1392.2" font-size="14.8" font-family="'Liberation Sans', Arial, sans-serif" fill="#1c1c1c" font-weight="bold" textLength="291" lengthAdjust="spacingAndGlyphs">granulocytes aux cellules endothéliales.</text>
<path d="M704.6,1370 L708.6,1362 L712.6,1370 Z" fill="#8cbf1f"/>
<text x="716.2" y="1373" font-size="14.8" font-family="'Liberation Sans', Arial, sans-serif" fill="#1c1c1c" font-weight="bold" textLength="303.5" lengthAdjust="spacingAndGlyphs">2. Effet de l’histamine sur l’expression des</text>
<text x="703" y="1392.2" font-size="14.8" font-family="'Liberation Sans', Arial, sans-serif" fill="#1c1c1c" font-weight="bold" textLength="305.5" lengthAdjust="spacingAndGlyphs">P-sélectines sur les cellules endothéliales.</text>
<text x="31.3" y="1460.5" font-size="16" font-family="'Liberation Sans', Arial, sans-serif" fill="#3c6980" textLength="28" lengthAdjust="spacingAndGlyphs">304</text></svg>
</body></html>
